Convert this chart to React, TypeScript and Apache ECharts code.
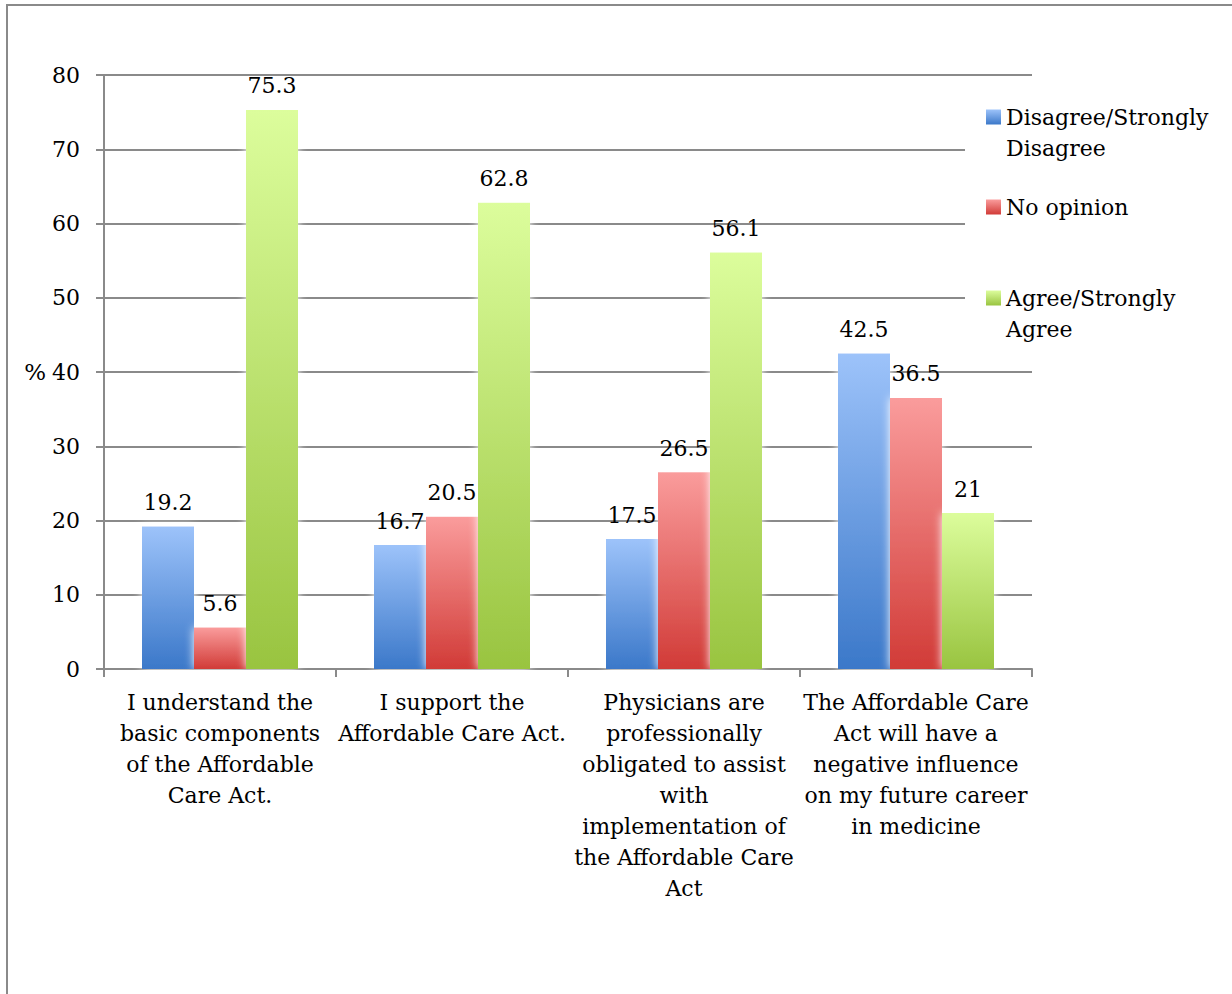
import React, { useEffect, useRef } from "react";
import * as echarts from "echarts";

// Survey statements (tick labels, wrapped as printed)
const categories: string[] = [
  "I understand the\nbasic components\nof the Affordable\nCare Act.",
  "I support the\nAffordable Care Act.",
  "Physicians are\nprofessionally\nobligated to assist\nwith\nimplementation of\nthe Affordable Care\nAct",
  "The Affordable Care\nAct will have a\nnegative influence\non my future career\nin medicine",
];

const seriesNames: string[] = [
  "Disagree/Strongly\nDisagree",
  "No opinion",
  "Agree/Strongly\nAgree",
];

// Percent of respondents
const disagreeValues: number[] = [19.2, 16.7, 17.5, 42.5];
const noOpinionValues: number[] = [5.6, 20.5, 26.5, 36.5];
const agreeValues: number[] = [75.3, 62.8, 56.1, 21];

const yTicks = { min: 0, max: 80, interval: 10 };

const FONT = "DejaVu Serif";
const LINE_H = 31;

function vGrad(top: string, bottom: string) {
  return new echarts.graphic.LinearGradient(0, 0, 0, 1, [
    { offset: 0, color: top },
    { offset: 1, color: bottom },
  ]);
}

// One legend block per series so each swatch sits beside the first line of its name.
function legendFor(name: string, swatchCenterY: number) {
  const multi = name.includes("\n");
  // an empty leading line keeps the swatch level with the first text line
  const blockH = multi ? LINE_H * 3 : LINE_H;
  return {
    orient: "vertical",
    left: 986,
    top: swatchCenterY - blockH / 2,
    padding: 0,
    itemWidth: 15,
    itemHeight: 15,
    icon: "rect",
    formatter: (n: string) => (n.includes("\n") ? "\n" + n : n),
    textStyle: {
      fontFamily: FONT,
      fontSize: 22,
      color: "#000",
      lineHeight: LINE_H,
    },
    data: [name],
  };
}

export default function App() {
  const ref = useRef<HTMLDivElement>(null);

  useEffect(() => {
    if (!ref.current) return;
    const chart = echarts.init(ref.current, null, { renderer: "svg" });

    const palette = [
      vGrad("#9dc3fa", "#3b78c9"),
      vGrad("#fa9c9c", "#d13b37"),
      vGrad("#dcfd9c", "#99c440"),
    ];
    const values = [disagreeValues, noOpinionValues, agreeValues];
    const swatchY = [117, 207, 298];

    chart.setOption({
      animation: false,
      backgroundColor: "#fff",
      textStyle: { fontFamily: FONT },
      graphic: [
        {
          type: "rect",
          shape: { x: 7, y: 5, width: 1400, height: 1200 },
          style: { fill: "none", stroke: "#8a8a8a", lineWidth: 2 },
          silent: true,
          z: -10,
        },
        {
          // legend panel background, covers the gridlines behind it
          type: "rect",
          shape: { x: 965, y: 92, width: 267, height: 256 },
          style: { fill: "#fff" },
          silent: true,
          z: 3,
        },
      ],
      legend: seriesNames.map((n, i) => legendFor(n, swatchY[i])),
      grid: { left: 104, right: 200, top: 75, bottom: 325, containLabel: false },
      xAxis: {
        type: "category",
        data: categories,
        axisLine: { lineStyle: { color: "#8a8a8a", width: 2 } },
        axisTick: { show: true, length: 8, lineStyle: { color: "#8a8a8a", width: 2 } },
        axisLabel: {
          interval: 0,
          margin: 18,
          color: "#000",
          fontFamily: FONT,
          fontSize: 22,
          lineHeight: LINE_H,
          align: "center",
        },
      },
      yAxis: {
        type: "value",
        min: yTicks.min,
        max: yTicks.max,
        interval: yTicks.interval,
        name: "%",
        nameLocation: "middle",
        nameRotate: 0,
        nameGap: 47,
        nameTextStyle: {
          color: "#000",
          fontFamily: FONT,
          fontSize: 23,
          padding: [12, 0, 0, 0],
        },
        axisLine: { show: true, lineStyle: { color: "#8a8a8a", width: 2 } },
        axisTick: { show: true, length: 8, lineStyle: { color: "#8a8a8a", width: 2 } },
        axisLabel: { margin: 24, color: "#000", fontFamily: FONT, fontSize: 22 },
        splitLine: { show: true, lineStyle: { color: "#8a8a8a", width: 2 } },
      },
      series: seriesNames.map((name, i) => ({
        name,
        type: "bar",
        data: values[i],
        barWidth: 52,
        barGap: "0%",
        itemStyle: {
          color: palette[i],
          shadowColor: "rgba(255,255,255,1)",
          shadowBlur: 10,
        },
        label: {
          show: true,
          position: "top",
          distance: 13,
          color: "#000",
          fontFamily: FONT,
          fontSize: 22,
        },
      })),
    });

    return () => chart.dispose();
  }, []);

  return (
    <div
      ref={ref}
      style={{ position: "absolute", left: 0, top: 0, width: 1232, height: 994 }}
    />
  );
}
